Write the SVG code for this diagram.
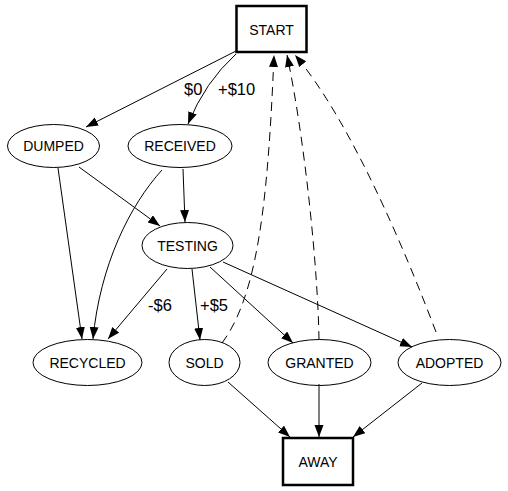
<svg xmlns="http://www.w3.org/2000/svg" width="508" height="491" viewBox="0 0 508 491">
<style>
.n ellipse{fill:none;stroke:#000;stroke-width:1}
.b rect{fill:none;stroke:#000;stroke-width:2.5}
text{font-family:"Liberation Sans",Arial,sans-serif;font-size:14px;text-anchor:middle;fill:#000}
.lbl{font-size:16.5px;text-anchor:start}
#edges path{fill:none;stroke:#000;stroke-width:1;marker-end:url(#ah)}
#edges path.d{stroke-dasharray:9,6}
</style>
<defs>
<marker id="ah" markerUnits="userSpaceOnUse" markerWidth="13" markerHeight="10" refX="12" refY="4.5" orient="auto">
<path d="M0,0 L12,4.5 L0,9 z" fill="#000" stroke="none"/>
</marker>
</defs>
<rect width="508" height="491" fill="#fff"/>
<g id="edges">
<path d="M236,51 L86,127"/>
<path d="M236,54 Q205,82 188,124"/>
<path d="M79,167 L160,226"/>
<path d="M58,168 L82,339"/>
<path d="M162,170 C130,205 100,265 93,339"/>
<path d="M183,169 L185,222"/>
<path d="M167,269 L108,339"/>
<path d="M192,269 L200,340"/>
<path d="M210,267 L293,343"/>
<path d="M223,262 L412,347"/>
<path d="M228,382 L290,437"/>
<path d="M319,384 L319,437"/>
<path d="M422,383 L353,437"/>
<path class="d" d="M222,343 C258,295 268,200 274,55"/>
<path class="d" d="M319,340 C318,270 305,140 287,55"/>
<path class="d" d="M436,332 C405,250 350,120 295,55"/>
<text class="lbl" x="184" y="95">$0</text>
<text class="lbl" x="218" y="95">+$10</text>
<text class="lbl" x="148" y="311">-$6</text>
<text class="lbl" x="200" y="311">+$5</text>
</g>
<g id="START" class="b"><rect x="236.5" y="6" width="70" height="46"/><text x="271.5" y="35">START</text></g>
<g id="DUMPED" class="n"><ellipse cx="53.5" cy="146" rx="46" ry="21.5"/><text x="53.5" y="151">DUMPED</text></g>
<g id="RECEIVED" class="n"><ellipse cx="180" cy="146" rx="52" ry="21.5"/><text x="180" y="151">RECEIVED</text></g>
<g id="TESTING" class="n"><ellipse cx="187.5" cy="245.5" rx="45.5" ry="23"/><text x="187.5" y="251">TESTING</text></g>
<g id="RECYCLED" class="n"><ellipse cx="87.5" cy="362.5" rx="54.5" ry="23"/><text x="87.5" y="368">RECYCLED</text></g>
<g id="SOLD" class="n"><ellipse cx="204.5" cy="362.5" rx="35.5" ry="23"/><text x="204.5" y="368">SOLD</text></g>
<g id="GRANTED" class="n"><ellipse cx="319.5" cy="362.5" rx="51.5" ry="23"/><text x="319.5" y="368">GRANTED</text></g>
<g id="ADOPTED" class="n"><ellipse cx="449.5" cy="362.5" rx="51.5" ry="23"/><text x="449.5" y="368">ADOPTED</text></g>
<g id="AWAY" class="b"><rect x="283" y="438" width="70" height="47"/><text x="318" y="467">AWAY</text></g>
</svg>
